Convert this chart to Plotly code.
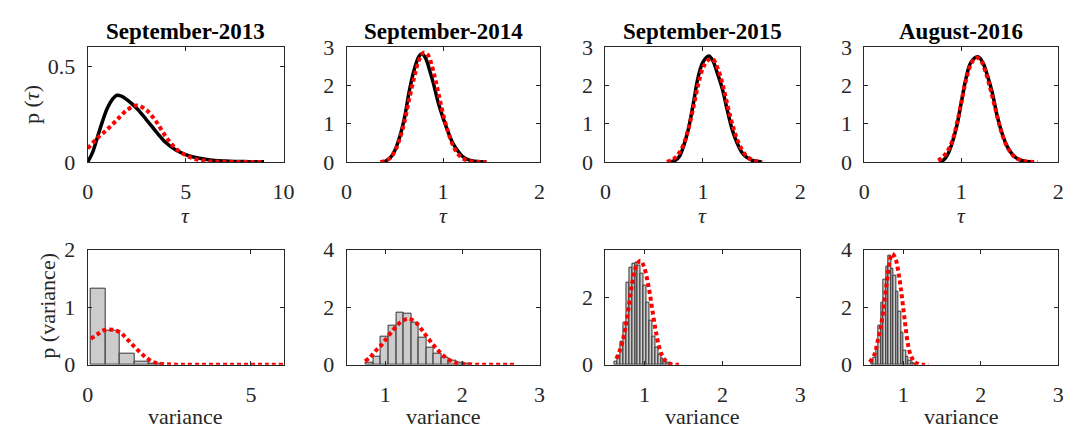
import plotly.graph_objects as go

W, H = 1086, 440
SERIF = "Liberation Serif"
INK = "#262626"

titles = ["September-2013", "September-2014", "September-2015", "August-2016"]

# ---- top row: densities of tau (solid = estimated, dotted = fitted) ----
tau13_x = [0, 0.25, 0.5, 0.75, 1.0, 1.25, 1.5, 1.75, 2.0, 2.5, 3.0, 3.5, 4.0, 4.5,
           5.0, 5.5, 6.0, 6.5, 7.0, 7.5, 8.0, 8.5, 9.0]
tau13_solid = [0, 0.05, 0.13, 0.21, 0.28, 0.325, 0.348, 0.342, 0.325, 0.28, 0.22, 0.157,
               0.1, 0.062, 0.038, 0.023, 0.014, 0.008, 0.005, 0.003, 0.002, 0.001, 0.0005]
tau13_fit_x = [0, 0.5, 1.0, 1.5, 2.0, 2.5, 3.0, 3.5, 4.0, 4.5, 5.0, 5.5, 6.0, 6.5,
               7.0, 7.5, 8.0, 8.5, 9.0]
tau13_fit = [0.07, 0.125, 0.17, 0.22, 0.27, 0.295, 0.27, 0.21, 0.13, 0.07, 0.035,
             0.015, 0.006, 0.002, 0.001, 0, 0, 0, 0]

tau14_x = [0.38, 0.4, 0.45, 0.5, 0.55, 0.6, 0.65, 0.7, 0.75, 0.78, 0.82, 0.86, 0.9,
           0.95, 1.0, 1.05, 1.1, 1.15, 1.2, 1.25, 1.3, 1.35, 1.45]
tau14_solid = [0, 0.02, 0.1, 0.3, 0.65, 1.15, 1.85, 2.4, 2.75, 2.82, 2.7, 2.4, 2.05,
               1.55, 1.15, 0.8, 0.5, 0.3, 0.15, 0.07, 0.03, 0.01, 0]
tau14_fit_x = [0.35, 0.4, 0.45, 0.5, 0.55, 0.6, 0.65, 0.7, 0.75, 0.8, 0.84, 0.88, 0.92,
               0.96, 1.0, 1.05, 1.1, 1.15, 1.2, 1.25, 1.3, 1.35, 1.4, 1.45]
tau14_fit = [0, 0.03, 0.1, 0.28, 0.6, 1.05, 1.65, 2.2, 2.65, 2.85, 2.8, 2.55, 2.15,
             1.7, 1.25, 0.8, 0.45, 0.22, 0.1, 0.04, 0.015, 0.005, 0, 0]

tau15_x = [0.67, 0.72, 0.76, 0.8, 0.85, 0.9, 0.95, 1.0, 1.06, 1.1, 1.15, 1.2, 1.25,
           1.3, 1.35, 1.4, 1.45, 1.5, 1.55, 1.6]
tau15_solid = [0, 0.05, 0.15, 0.4, 0.85, 1.5, 2.2, 2.6, 2.76, 2.65, 2.3, 1.9, 1.35,
               0.85, 0.5, 0.25, 0.12, 0.05, 0.02, 0]
tau15_fit_x = [0.63, 0.68, 0.72, 0.76, 0.8, 0.85, 0.9, 0.95, 1.0, 1.05, 1.1, 1.15,
               1.2, 1.25, 1.3, 1.35, 1.4, 1.45, 1.5, 1.55, 1.61]
tau15_fit = [0, 0.05, 0.12, 0.25, 0.45, 0.85, 1.4, 2.0, 2.45, 2.65, 2.68, 2.45, 2.05,
             1.5, 1.0, 0.6, 0.32, 0.15, 0.06, 0.02, 0]

tau16_x = [0.78, 0.82, 0.86, 0.9, 0.95, 1.0, 1.05, 1.1, 1.17, 1.22, 1.27, 1.32, 1.37,
           1.42, 1.47, 1.52, 1.57, 1.62, 1.67, 1.75]
tau16_solid = [0, 0.06, 0.2, 0.45, 0.9, 1.55, 2.2, 2.6, 2.74, 2.6, 2.25, 1.8, 1.2,
               0.75, 0.42, 0.22, 0.1, 0.04, 0.015, 0]
tau16_fit_x = [0.76, 0.8, 0.85, 0.9, 0.95, 1.0, 1.05, 1.1, 1.15, 1.2, 1.25, 1.3, 1.35,
               1.4, 1.45, 1.5, 1.55, 1.6, 1.65, 1.7, 1.79]
tau16_fit = [0.04, 0.1, 0.25, 0.5, 0.95, 1.55, 2.15, 2.55, 2.72, 2.65, 2.35, 1.9, 1.4,
             0.9, 0.52, 0.28, 0.13, 0.06, 0.02, 0.005, 0]

# ---- bottom row: histograms of the variance with fitted density ----
var13_start, var13_width = 0.1, 0.445
var13_hist = [1.32, 0.60, 0.20, 0.055, 0.012]
var13_fit_x = [0.1, 0.3, 0.5, 0.75, 1.0, 1.2, 1.4, 1.6, 1.8, 2.0, 2.2, 2.4, 2.6, 2.8,
               3.0, 3.5, 4.0, 4.5, 5.0, 5.5, 6.0]
var13_fit = [0.45, 0.53, 0.6, 0.61, 0.56, 0.45, 0.33, 0.22, 0.12, 0.05, 0.02, 0.008,
             0.003, 0.001, 0, 0, 0, 0, 0, 0, 0]

var14_start, var14_width = 0.75, 0.098
var14_hist = [0.08, 0.27, 0.98, 1.36, 1.82, 1.76, 1.45, 0.93, 0.60, 0.40, 0.25, 0.14,
              0.07, 0.03]
var14_fit_x = [0.74, 0.8, 0.85, 0.9, 0.95, 1.0, 1.1, 1.2, 1.3, 1.4, 1.5, 1.6, 1.7, 1.8,
               1.9, 2.0, 2.1, 2.2, 2.3, 2.4, 2.5, 2.6, 2.69]
var14_fit = [0.12, 0.25, 0.4, 0.55, 0.68, 0.85, 1.2, 1.48, 1.6, 1.46, 1.12, 0.77, 0.46,
             0.22, 0.08, 0.03, 0.01, 0, 0, 0, 0, 0, 0]

var15_start, var15_width = 0.62, 0.037
var15_hist = [0.1, 0.28, 0.7, 1.25, 2.45, 2.9, 3.0, 3.05, 2.95, 2.7, 2.35, 1.85, 1.3,
              0.85, 0.5, 0.3, 0.17, 0.1, 0.05, 0.02]
var15_fit_x = [0.64, 0.68, 0.72, 0.76, 0.8, 0.84, 0.88, 0.92, 0.95, 0.99, 1.03, 1.07,
               1.11, 1.15, 1.19, 1.23, 1.28, 1.34, 1.4, 1.47]
var15_fit = [0.18, 0.4, 0.7, 1.15, 1.75, 2.4, 2.85, 3.05, 3.1, 2.95, 2.6, 2.1, 1.5,
             0.95, 0.52, 0.26, 0.1, 0.02, 0, 0]

var16_start, var16_width = 0.59, 0.032
var16_hist = [0.1, 0.25, 0.6, 1.35, 2.15, 2.95, 3.4, 3.8, 3.35, 3.1, 2.55, 1.85, 1.1,
              0.5, 0.27, 0.14, 0.06, 0.02]
var16_fit_x = [0.57, 0.63, 0.67, 0.71, 0.74, 0.77, 0.8, 0.83, 0.86, 0.9, 0.94, 0.97,
               1.0, 1.03, 1.06, 1.1, 1.15, 1.2, 1.26, 1.33]
var16_fit = [0.09, 0.36, 0.8, 1.3, 1.8, 2.45, 3.1, 3.65, 3.86, 3.7, 3.2, 2.66, 2.0,
             1.34, 0.74, 0.31, 0.09, 0.02, 0, 0]

top_series = [
    (tau13_x, tau13_solid, tau13_fit_x, tau13_fit),
    (tau14_x, tau14_solid, tau14_fit_x, tau14_fit),
    (tau15_x, tau15_solid, tau15_fit_x, tau15_fit),
    (tau16_x, tau16_solid, tau16_fit_x, tau16_fit),
]
bottom_series = [
    (var13_start, var13_width, var13_hist, var13_fit_x, var13_fit),
    (var14_start, var14_width, var14_hist, var14_fit_x, var14_fit),
    (var15_start, var15_width, var15_hist, var15_fit_x, var15_fit),
    (var16_start, var16_width, var16_hist, var16_fit_x, var16_fit),
]

top_xrange = [[0, 10], [0, 2], [0, 2], [0, 2]]
top_xticks = [[0, 5, 10], [0, 1, 2], [0, 1, 2], [0, 1, 2]]
top_yrange = [[0, 0.6], [0, 3], [0, 3], [0, 3]]
top_yticks = [[0, 0.5], [0, 1, 2, 3], [0, 1, 2, 3], [0, 1, 2, 3]]
bot_xrange = [[0, 6], [0.5, 3], [0.5, 3], [0.5, 3]]
bot_xticks = [[0, 5], [1, 2, 3], [1, 2, 3], [1, 2, 3]]
bot_yrange = [[0, 2], [0, 4], [0, 3.43], [0, 4]]
bot_yticks = [[0, 1, 2], [0, 2, 4], [0, 2], [0, 2, 4]]

# panel frames in pixels: (left, right) per column, (top, bottom) per row
cols_px = [(83, 282), (346, 542), (609, 807), (872, 1069)]
rows_px = [(37, 159), (252, 374)]


def px_x(p):
    return p / W


def px_y(p):
    return 1 - p / H


def xdom(c):
    return [px_x(cols_px[c][0]), px_x(cols_px[c][1])]


def ydom(r):
    return [px_y(rows_px[r][1]), px_y(rows_px[r][0])]


def axis_style(**kw):
    d = dict(showline=True, linecolor=INK, linewidth=1, mirror="ticks",
             ticks="inside", ticklen=4, tickwidth=1, tickcolor=INK,
             showgrid=False, zeroline=False, fixedrange=True,
             tickfont=dict(family=SERIF, size=22, color=INK))
    d.update(kw)
    return d


fig = go.Figure()
layout = {}
annotations = []

for c in range(4):
    # top panel
    n = c + 1
    xa, ya = ("x" if n == 1 else f"x{n}"), ("y" if n == 1 else f"y{n}")
    tx, ts, fx, fv = top_series[c]
    fig.add_trace(go.Scatter(x=tx, y=ts, mode="lines", xaxis=xa, yaxis=ya,
                             line=dict(color="black", width=3.5, shape="spline"),
                             showlegend=False, hoverinfo="skip"))
    fig.add_trace(go.Scatter(x=fx, y=fv, mode="lines", xaxis=xa, yaxis=ya,
                             line=dict(color="#ff0000", width=4, dash="4px,3px",
                                       shape="spline"),
                             showlegend=False, hoverinfo="skip"))
    layout["xaxis" if n == 1 else f"xaxis{n}"] = axis_style(
        domain=xdom(c), anchor=ya, range=top_xrange[c], tickvals=top_xticks[c],
        ticklabelstandoff=10)
    layout["yaxis" if n == 1 else f"yaxis{n}"] = axis_style(
        domain=ydom(0), anchor=xa, range=top_yrange[c], tickvals=top_yticks[c],
        ticklabelstandoff=7)

    # bottom panel
    m = c + 5
    xb, yb = f"x{m}", f"y{m}"
    start, width, hist, bx, bv = bottom_series[c]
    centers = [start + width * (k + 0.5) for k in range(len(hist))]
    fig.add_trace(go.Bar(x=centers, y=hist, width=width, xaxis=xb, yaxis=yb,
                         marker=dict(color="#cccccc", line=dict(color="#333333", width=1)),
                         showlegend=False, hoverinfo="skip"))
    fig.add_trace(go.Scatter(x=bx, y=bv, mode="lines", xaxis=xb, yaxis=yb,
                             line=dict(color="#ff0000", width=4, dash="4px,3px",
                                       shape="spline"),
                             showlegend=False, hoverinfo="skip"))
    layout[f"xaxis{m}"] = axis_style(
        domain=xdom(c), anchor=yb, range=bot_xrange[c], tickvals=bot_xticks[c],
        ticklabelstandoff=10)
    layout[f"yaxis{m}"] = axis_style(
        domain=ydom(1), anchor=xb, range=bot_yrange[c], tickvals=bot_yticks[c],
        ticklabelstandoff=7)

    cx = px_x((cols_px[c][0] + cols_px[c][1]) / 2)
    annotations.append(dict(text=f"<b>{titles[c]}</b>", x=cx, y=px_y(36.5),
                            xref="paper", yref="paper", xanchor="center",
                            yanchor="bottom", showarrow=False,
                            font=dict(family=SERIF, size=23, color="black")))
    annotations.append(dict(text="<i>τ</i>", x=cx, y=px_y(216),
                            xref="paper", yref="paper", xanchor="center",
                            yanchor="middle", showarrow=False,
                            font=dict(family=SERIF, size=22, color=INK)))
    annotations.append(dict(text="variance", x=cx, y=px_y(429),
                            xref="paper", yref="paper", xanchor="center",
                            yanchor="middle", showarrow=False,
                            font=dict(family=SERIF, size=22, color=INK)))

annotations.append(dict(text="p (<i>τ</i>)", x=px_x(26), y=px_y(98), xref="paper",
                        yref="paper", xanchor="center", yanchor="middle",
                        textangle=-90, showarrow=False,
                        font=dict(family=SERIF, size=22, color=INK)))
annotations.append(dict(text="p (variance)", x=px_x(42), y=px_y(311), xref="paper",
                        yref="paper", xanchor="center", yanchor="middle",
                        textangle=-90, showarrow=False,
                        font=dict(family=SERIF, size=22, color=INK)))

fig.update_layout(**layout)
fig.update_layout(width=W, height=H, margin=dict(l=0, r=0, t=0, b=0),
                  paper_bgcolor="white", plot_bgcolor="white", bargap=0,
                  annotations=annotations, showlegend=False)

fig.write_html("out.html")
